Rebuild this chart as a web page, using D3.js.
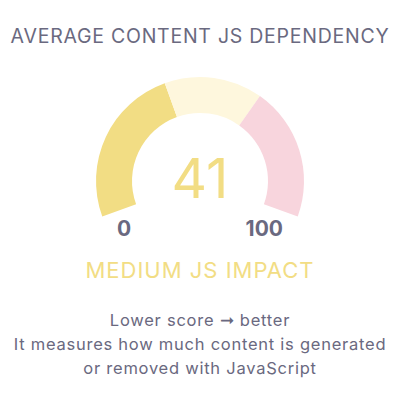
<body style="margin:0;background:#fff">
  <script src="https://d3js.org/d3.v7.min.js" charset="utf-8"></script>
  <script>

    // data
    const title = 'AVERAGE CONTENT JS DEPENDENCY';
    const score = 41;
    const segmentStarts = [0, 41, 66];
    const segmentEnds = [41, 66, 100];
    const axisLabels = [0, 100];
    const verdict = 'MEDIUM JS IMPACT';
    const notes = [
      'Lower score \u279E better',
      'It measures how much content is generated',
      'or removed with JavaScript'
    ];

    var svgArea = { width: 410, height: 394 };
    var colors = ['#f2dd84', '#fef7dd', '#f8d5dd'];
    var textGrey = '#6a6980';
    var font = 'Inter, "Noto Sans", sans-serif';

    const svg = d3.select('body').append('svg')
      .attr('width', svgArea.width)
      .attr('height', svgArea.height)
      .style('display', 'block');

    var cx = 200, cy = 181;
    var rad = d3.scaleLinear()
      .domain([0, 100])
      .range([-110 * Math.PI / 180, 110 * Math.PI / 180]);

    var arc = d3.arc()
      .innerRadius(68)
      .outerRadius(104);

    var segs = segmentStarts.map((s, i) => ({ start: s, end: segmentEnds[i] }));

    var g = svg.append('g').attr('transform', `translate(${cx},${cy})`);

    g.selectAll('path')
      .data(segs)
      .join('path')
        .attr('fill', (d, i) => colors[i])
        .attr('d', d => arc({ startAngle: rad(d.start), endAngle: rad(d.end) }));

    // big number
    g.append('text')
      .attr('x', 0)
      .attr('y', 17)
      .attr('text-anchor', 'middle')
      .attr('font-family', font)
      .attr('font-size', 55)
      .attr('fill', colors[0])
      .text(score);

    // 0 and 100 tucked under the arc ends
    g.selectAll('text.lbl')
      .data(axisLabels)
      .join('text')
        .attr('class', 'lbl')
        .attr('x', d => d === 0 ? -83 : 83)
        .attr('y', 55)
        .attr('text-anchor', d => d === 0 ? 'start' : 'end')
        .attr('font-family', font)
        .attr('font-weight', 700)
        .attr('font-size', 21)
        .attr('fill', textGrey)
        .text(d => d);

    svg.append('text')
      .attr('x', 200)
      .attr('y', 43)
      .attr('text-anchor', 'middle')
      .attr('font-family', font)
      .attr('font-size', 19.5)
      .attr('letter-spacing', 0.75)
      .attr('fill', textGrey)
      .text(title);

    svg.append('text')
      .attr('x', 200)
      .attr('y', 278)
      .attr('text-anchor', 'middle')
      .attr('font-family', font)
      .attr('font-size', 22)
      .attr('letter-spacing', 1)
      .attr('fill', colors[0])
      .text(verdict);

    svg.selectAll('text.note')
      .data(notes)
      .join('text')
        .attr('class', 'note')
        .attr('x', 200)
        .attr('y', (d, i) => 326 + i * 24)
        .attr('text-anchor', 'middle')
        .attr('font-family', font)
        .attr('font-size', 16.5)
        .attr('letter-spacing', 0.75)
        .attr('fill', textGrey)
        .text(d => d);
  </script>
</body>
